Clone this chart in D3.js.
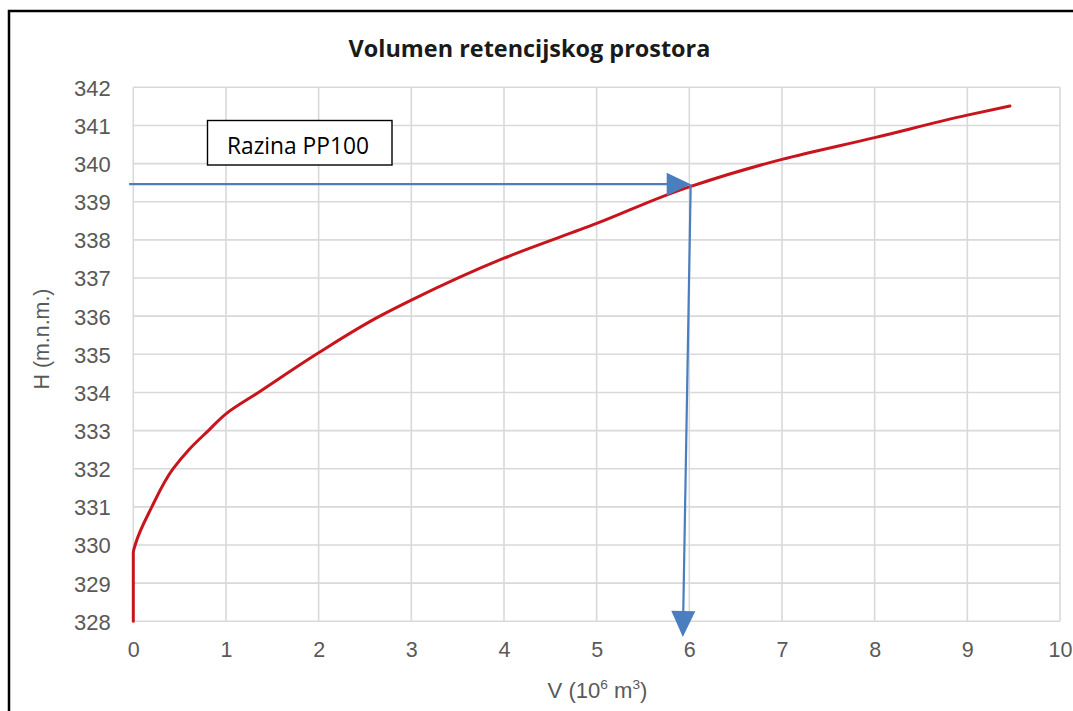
<!DOCTYPE html>
<html>
<head>
<meta charset="utf-8">
<script src="https://cdn.jsdelivr.net/npm/d3@7"></script>
<style>
  html, body { margin: 0; padding: 0; background: #fff; }
  svg { display: block; }
</style>
</head>
<body>
<svg id="chart" width="1073" height="711"></svg>
<script>
// ---- data ----
const titleText = "Volumen retencijskog prostora";
const volumes = [0, 0, 0.02, 0.2, 0.43, 0.6, 0.81, 1.0, 1.35, 2.0, 2.66, 3.0, 4.0, 5.0, 6.0, 7.0, 8.0, 9.0, 9.46];
const levels  = [328, 329.8, 330, 331, 332, 332.5, 333, 333.44, 334, 335.04, 336, 336.42, 337.52, 338.43, 339.39, 340.11, 340.68, 341.27, 341.51];
const xTicks = [0, 1, 2, 3, 4, 5, 6, 7, 8, 9, 10];
const yTicks = [328, 329, 330, 331, 332, 333, 334, 335, 336, 337, 338, 339, 340, 341, 342];
const annotationLabel = "Razina PP100";
const pp100Level = 339.46;          // H of the horizontal arrow
const hArrowFrom = -0.045;          // V where horizontal arrow starts
const hArrowTo = 6.015;             // V where horizontal arrow ends
const vArrowEnd = [5.93, 327.59];   // V,H of downward arrow tip

// ---- layout ----
const svg = d3.select("#chart");
const xScale = d3.scaleLinear().domain([0, 10]).range([133.3, 1060]);
const yScale = d3.scaleLinear().domain([328, 342]).range([621.3, 87.3]);
const gridColor = "#d9d9d9";
const labelColor = "#595959";
const red = "#c8141c";
const blue = "#4a7ebf";

function fitWidth(sel, w) {
  const node = sel.node();
  const fs = parseFloat(sel.attr("font-size"));
  const len = node.getBBox().width;
  sel.attr("font-size", fs * w / len);
}

// outer frame
svg.append("rect").attr("x", 9).attr("y", 11).attr("width", 1100).attr("height", 750)
  .attr("fill", "none").attr("stroke", "#000").attr("stroke-width", 2.5);

// title
const title = svg.append("text").attr("x", 529.5).attr("y", 56.5)
  .attr("text-anchor", "middle").attr("font-family", "'Open Sans', sans-serif")
  .attr("font-weight", "bold").attr("font-size", 22).attr("fill", "#1a1a1a").text(titleText);
fitWidth(title, 362);

// gridlines
svg.append("g").selectAll("line").data(xTicks).join("line")
  .attr("x1", d => xScale(d)).attr("x2", d => xScale(d))
  .attr("y1", yScale(342)).attr("y2", yScale(328))
  .attr("stroke", gridColor).attr("stroke-width", 1.6);
svg.append("g").selectAll("line").data(yTicks).join("line")
  .attr("x1", xScale(0)).attr("x2", xScale(10))
  .attr("y1", d => yScale(d)).attr("y2", d => yScale(d))
  .attr("stroke", gridColor).attr("stroke-width", 1.6);

// axes (labels only)
const xAxis = svg.append("g").attr("transform", `translate(0,${yScale(328)})`)
  .call(d3.axisBottom(xScale).tickValues(xTicks).tickSize(0).tickPadding(0).tickFormat(d3.format("d")));
xAxis.select(".domain").remove();
xAxis.selectAll("text").attr("dy", null).attr("y", 36)
  .attr("font-family", "'Liberation Sans', Arial, sans-serif").attr("font-size", 21.5).attr("fill", labelColor);

const yAxis = svg.append("g").attr("transform", `translate(${xScale(0)},0)`)
  .call(d3.axisLeft(yScale).tickValues(yTicks).tickSize(0).tickPadding(0).tickFormat(d3.format("d")));
yAxis.select(".domain").remove();
yAxis.selectAll("text").attr("x", -22.5).attr("dy", "0.36em")
  .attr("font-family", "'Liberation Sans', Arial, sans-serif").attr("font-size", 22).attr("fill", labelColor);

// axis titles
const yTitle = svg.append("text").attr("transform", "translate(49,339) rotate(-90)")
  .attr("text-anchor", "middle").attr("font-family", "'Liberation Sans', Arial, sans-serif")
  .attr("font-size", 19).attr("fill", labelColor).text("H (m.n.m.)");
fitWidth(yTitle, 101);

const xTitle = svg.append("text").attr("x", 597.5).attr("y", 698)
  .attr("text-anchor", "middle").attr("font-family", "'Liberation Sans', Arial, sans-serif")
  .attr("font-size", 21).attr("fill", labelColor);
xTitle.append("tspan").text("V (10");
xTitle.append("tspan").attr("font-size", "0.62em").attr("dy", -9).text("6");
xTitle.append("tspan").attr("dy", 9).text(" m");
xTitle.append("tspan").attr("font-size", "0.62em").attr("dy", -9).text("3");
xTitle.append("tspan").attr("dy", 9).text(")");
fitWidth(xTitle, 100);

// curve
const pts = volumes.map((v, i) => [v, levels[i]]);
const line = d3.line().x(d => xScale(d[0])).y(d => yScale(d[1])).curve(d3.curveMonotoneY);
svg.append("path").datum(pts).attr("d", line)
  .attr("fill", "none").attr("stroke", red).attr("stroke-width", 3).attr("stroke-linecap", "round");

// annotation arrows
const hy = yScale(pp100Level);
const hx0 = xScale(hArrowFrom), hx1 = xScale(hArrowTo);
const headL = 24, headW = 11.5;
svg.append("line").attr("x1", hx0).attr("y1", hy).attr("x2", hx1 - headL + 2).attr("y2", hy)
  .attr("stroke", blue).attr("stroke-width", 2.2);
svg.append("polygon")
  .attr("points", [[hx1, hy], [hx1 - headL, hy - headW], [hx1 - headL, hy + headW]].map(p => p.join(",")).join(" "))
  .attr("fill", blue);

const vx0 = hx1, vy0 = hy;
const vx1 = xScale(vArrowEnd[0]), vy1 = yScale(vArrowEnd[1]);
const dx = vx1 - vx0, dy = vy1 - vy0, L = Math.hypot(dx, dy);
const ux = dx / L, uy = dy / L;
const vHeadL = 26, vHeadW = 12;
const bx = vx1 - ux * vHeadL, by = vy1 - uy * vHeadL;
svg.append("line").attr("x1", vx0).attr("y1", vy0).attr("x2", bx + ux * 2).attr("y2", by + uy * 2)
  .attr("stroke", blue).attr("stroke-width", 2.2);
svg.append("polygon")
  .attr("points", [[vx1, vy1], [bx - uy * vHeadW, by + ux * vHeadW], [bx + uy * vHeadW, by - ux * vHeadW]].map(p => p.join(",")).join(" "))
  .attr("fill", blue);

// label box
svg.append("rect").attr("x", 207.5).attr("y", 120.5).attr("width", 184.5).attr("height", 44.5)
  .attr("fill", "#fff").attr("stroke", "#000").attr("stroke-width", 1.4);
const boxText = svg.append("text").attr("x", 298).attr("y", 154)
  .attr("text-anchor", "middle").attr("font-family", "'Open Sans', sans-serif")
  .attr("font-size", 20).attr("fill", "#000").text(annotationLabel);
fitWidth(boxText, 142);
</script>
</body>
</html>
